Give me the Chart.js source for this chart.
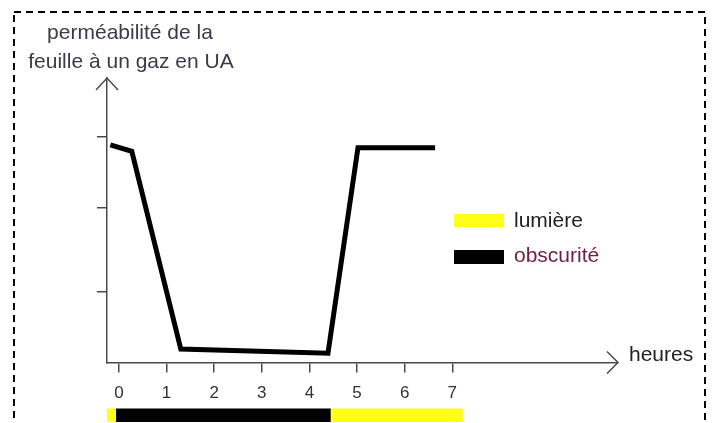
<!DOCTYPE html>
<html>
<head>
<meta charset="utf-8">
<script src="https://cdn.jsdelivr.net/npm/chart.js@4.4.0/dist/chart.umd.min.js"></script>
<style>
  body { margin: 0; background: #fff; }
  #wrap { width: 713px; height: 423px; }
</style>
</head>
<body>
<div id="wrap"><canvas id="chartPermeabilite" width="713" height="423"></canvas></div>
<script>
const heures = [-0.18, 0.27, 1.3, 4.39, 5.02, 6.64];
const permeabilite = [3.06, 2.97, 0.19, 0.13, 3.02, 3.02];
const xTicks = [0, 1, 2, 3, 4, 5, 6, 7];
const yTicks = [1, 2.17, 3.18];

// bande lumière / obscurité sous l'axe
const phaseDebut = [-0.25, -0.06, 4.45];
const phaseFin = [-0.06, 4.45, 7.22];
const phaseType = ['lumière', 'obscurité', 'lumière'];
const phaseCouleur = { 'lumière': '#ffff1a', 'obscurité': '#000000' };

const axeCouleur = '#4a4a4a';

const decor = {
  id: 'decor',
  afterDraw(chart) {
    const c = chart.ctx;
    const a = chart.chartArea;
    const x = chart.scales.x;
    c.save();

    // cadre pointillé
    c.strokeStyle = '#000';
    c.lineWidth = 2;
    c.setLineDash([7, 5]);
    c.strokeRect(14, 12, 691, 430);
    c.setLineDash([]);

    // flèches des axes
    c.strokeStyle = axeCouleur;
    c.lineWidth = 1.5;
    c.beginPath();
    c.moveTo(a.left - 11, a.top + 12);
    c.lineTo(a.left, a.top);
    c.lineTo(a.left + 11, a.top + 12);
    c.moveTo(a.right - 11, a.bottom - 11);
    c.lineTo(a.right, a.bottom);
    c.lineTo(a.right - 11, a.bottom + 11);
    c.stroke();

    // titre de l'axe vertical
    c.fillStyle = '#3a3a4c';
    c.font = '21px "Liberation Sans", Arial, sans-serif';
    c.textAlign = 'center';
    c.textBaseline = 'middle';
    c.fillText('perméabilité de la', 130, 33);
    c.fillText('feuille à un gaz en UA', 131, 62);

    // titre axe horizontal
    c.fillStyle = '#222';
    c.textAlign = 'left';
    c.fillText('heures', 629, 355);

    // légende
    c.fillStyle = phaseCouleur['lumière'];
    c.fillRect(454, 214, 50, 13);
    c.fillStyle = phaseCouleur['obscurité'];
    c.fillRect(454, 250, 50, 14);
    c.fillStyle = '#222';
    c.fillText('lumière', 514, 221);
    c.fillStyle = '#6e1e46';
    c.fillText('obscurité', 514, 256);

    // bande des phases
    for (let i = 0; i < phaseType.length; i++) {
      const x0 = x.getPixelForValue(phaseDebut[i]);
      const x1 = x.getPixelForValue(phaseFin[i]);
      c.fillStyle = phaseCouleur[phaseType[i]];
      c.fillRect(x0, 408.5, x1 - x0, 13.5);
    }
    c.restore();
  }
};

const ctx = document.getElementById('chartPermeabilite');
new Chart(ctx, {
  type: 'line',
  data: {
    datasets: [{
      label: 'perméabilité',
      data: heures.map((h, i) => ({ x: h, y: permeabilite[i] })),
      borderColor: '#000',
      borderWidth: 5,
      pointRadius: 0,
      tension: 0,
      borderJoinStyle: 'miter'
    }]
  },
  options: {
    responsive: false,
    animation: false,
    layout: { padding: { left: 0, top: 78, right: 95, bottom: 0 } },
    plugins: { legend: { display: false }, tooltip: { enabled: false } },
    scales: {
      x: {
        type: 'linear',
        min: -0.25,
        max: 10.48,
        afterBuildTicks: s => { s.ticks = xTicks.map(v => ({ value: v })); },
        afterFit: s => { s.height = 60.5; },
        grid: { drawOnChartArea: false, drawTicks: true, tickLength: 10, color: axeCouleur, lineWidth: 1.5 },
        border: { display: true, color: axeCouleur, width: 1.5 },
        ticks: {
          color: '#333',
          padding: 11,
          maxRotation: 0,
          autoSkip: false,
          font: { family: '"Liberation Sans", Arial, sans-serif', size: 17 }
        }
      },
      y: {
        min: 0,
        max: 4,
        afterBuildTicks: s => { s.ticks = yTicks.map(v => ({ value: v })); },
        afterFit: s => { s.width = 107; },
        grid: { drawOnChartArea: false, drawTicks: true, tickLength: 10, color: axeCouleur, lineWidth: 1.5 },
        border: { display: true, color: axeCouleur, width: 1.5 },
        ticks: { callback: () => '' }
      }
    }
  },
  plugins: [decor]
});
</script>
</body>
</html>
